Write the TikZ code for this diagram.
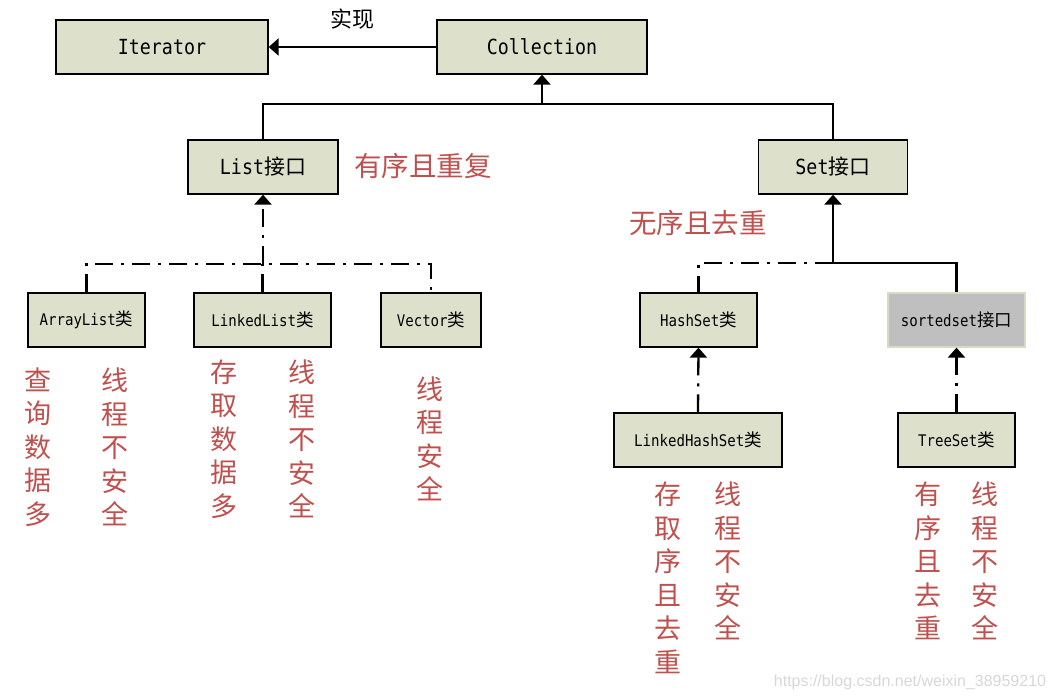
\documentclass[tikz,border=0pt]{standalone}
\usepackage{fontspec}
\usetikzlibrary{arrows.meta}
\newfontfamily\cjk{Noto Sans CJK SC}
\newfontfamily\mono[FakeStretch=0.88]{DejaVu Sans Mono}
\newfontfamily\wmfont{Liberation Sans}
\newcommand\bigcjk[1]{{\cjk\fontsize{21}{24}\selectfont #1}}
\newcommand\smallcjk[1]{{\cjk\fontsize{17.5}{20}\selectfont #1}}
\definecolor{boxfill}{RGB}{221,225,204}
\definecolor{grayfill}{RGB}{191,191,191}
\definecolor{grayedge}{RGB}{214,220,196}
\definecolor{notered}{RGB}{192,80,77}
\definecolor{wmgray}{RGB}{215,215,215}
\tikzset{
  box/.style={draw=black, line width=1.3pt, fill=boxfill, inner sep=0pt, minimum height=54pt},
  bigtext/.style={font=\fontsize{20.8}{22}\selectfont},
  smalltext/.style={font=\fontsize{16}{18}\selectfont},
  conn/.style={line width=2.3pt},
  dd/.style={line width=2.3pt, dash pattern=on 18pt off 8pt on 3pt off 8pt},
  tip/.style={-{Triangle[width=17pt,length=10pt]}},
  note/.style={text=notered, inner sep=0pt, align=center, font=\cjk\fontsize{27}{33.5}\selectfont},
  headnote/.style={text=notered, inner sep=0pt, font=\cjk\fontsize{27.5}{30}\selectfont},
}
\begin{document}
\begin{tikzpicture}[x=1pt,y=-1pt]
\useasboundingbox (0,0) rectangle (1055,700);
% top level
\node[box,bigtext,minimum width=212pt] (it) at (162,47) {\mono Iterator};
\node[box,bigtext,minimum width=210pt] (coll) at (542,47) {\mono Collection};
\node[inner sep=0pt,font=\cjk\fontsize{22}{24}\selectfont] (impl) at (352,19) {实现};
\draw[conn,tip] (coll.west) -- (it.east);
% interfaces
\node[box,bigtext,minimum width=150pt] (list) at (263,167) {{\mono List}\bigcjk{接口}};
\node[box,bigtext,minimum width=149pt] (set) at (833,167) {{\mono Set}\bigcjk{接口}};
\coordinate (top) at (542,104);
\draw[conn] (list.north) -- (list.north |- top) -- (set.north |- top) -- (set.north);
\draw[conn,tip] (top) -- (coll.south);
\node[headnote] (ordrep) at (423,166) {有序且重复};
\node[headnote] (unord) at (698,223) {无序且去重};
% list implementations
\node[box,smalltext,minimum width=117pt] (al) at (86.5,320) {{\mono ArrayList}\smallcjk{类}};
\node[box,smalltext,minimum width=137pt] (ll) at (262.5,320) {{\mono LinkedList}\smallcjk{类}};
\node[box,smalltext,minimum width=100pt] (vec) at (431,320) {{\mono Vector}\smallcjk{类}};
\coordinate (lj) at (263,264);
\draw[dd] (al.north) -- (al.north |- lj) -- (vec.north |- lj) -- (vec.north);
\draw[dd] (ll.north) -- (ll.north |- lj);
\draw[dd,tip] (lj) -- (list.south);
% set implementations
\node[box,smalltext,minimum width=117pt] (hs) at (698.5,320) {{\mono HashSet}\smallcjk{类}};
\node[draw=grayedge, line width=1.3pt, fill=grayfill, inner sep=0pt, minimum height=54pt, smalltext, minimum width=137pt] (sorted) at (956.5,320) {{\mono sortedset}\smallcjk{接口}};
\node[box,smalltext,minimum width=168pt] (lhs) at (698,440) {{\mono LinkedHashSet}\smallcjk{类}};
\node[box,smalltext,minimum width=117pt] (ts) at (956.5,440) {{\mono TreeSet}\smallcjk{类}};
\coordinate (sj) at (833,263);
\draw[conn,tip] (sj) -- (set.south);
\draw[conn] (sj) -| (sorted.north);
\draw[dd] (sj) -| (hs.north);
\draw[dd,tip] (lhs.north) -- (hs.south);
\draw[dd,tip] (ts.north) -- (sorted.south);
% notes
\node[note] (n1) at (38,447) {查\\询\\数\\据\\多};
\node[note] (n2) at (115,447) {线\\程\\不\\安\\全};
\node[note] (n3) at (224,439) {存\\取\\数\\据\\多};
\node[note] (n4) at (302,439) {线\\程\\不\\安\\全};
\node[note] (n5) at (430,439) {线\\程\\安\\全};
\node[note] (n6) at (668,578) {存\\取\\序\\且\\去\\重};
\node[note] (n7) at (728,561) {线\\程\\不\\安\\全};
\node[note] (n8) at (928,561) {有\\序\\且\\去\\重};
\node[note] (n9) at (985,561) {线\\程\\不\\安\\全};
% watermark
\node[text=wmgray, inner sep=0pt, font=\wmfont\fontsize{16}{18}\selectfont] (wm) at (910,682) {https://blog.csdn.net/weixin\_38959210};
\end{tikzpicture}
\end{document}
